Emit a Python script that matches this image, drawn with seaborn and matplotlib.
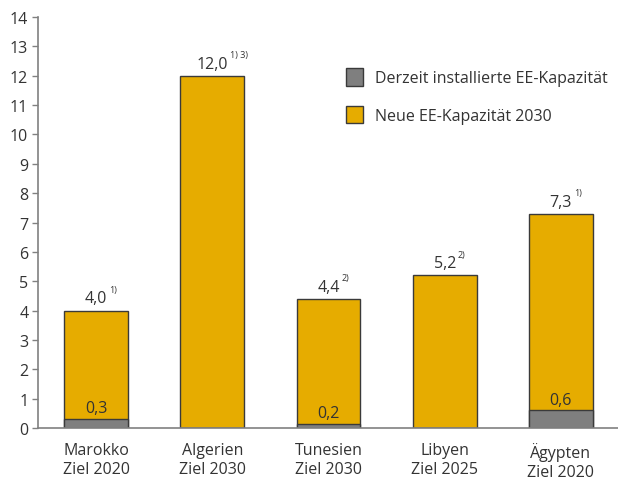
import pandas as pd
import matplotlib.pyplot as plt
import seaborn as sns

countries = ['Marokko\nZiel 2020', 'Algerien\nZiel 2030', 'Tunesien\nZiel 2030', 'Libyen\nZiel 2025', 'Ägypten\nZiel 2020']
total = [4.0, 12.0, 4.4, 5.2, 7.3]
installed = [0.3, 0.0, 0.15, 0.0, 0.6]
total_labels = ['4,0', '12,0', '4,4', '5,2', '7,3']
total_notes = ['1)', '1) 3)', '2)', '2)', '1)']
installed_labels = ['0,3', '', '0,2', '', '0,6']

gold = '#E6AC00'
grey = '#7F7F7F'
edge = '#3A3A3A'
txt = '#333333'

df = pd.DataFrame({'land': countries, 'total': total, 'installed': installed})

sns.set_style('white')
plt.rcParams['font.family'] = ['Open Sans', 'DejaVu Sans']

fig = plt.figure(figsize=(6.18, 4.81), dpi=100)
ax = fig.add_axes([38 / 618, 52 / 481, 581 / 618, 411 / 481])

sns.barplot(data=df, x='land', y='total', color=gold, width=0.55,
            edgecolor=edge, linewidth=1, saturation=1, ax=ax,
            label='Neue EE-Kapazität 2030')
sns.barplot(data=df, x='land', y='installed', color=grey, width=0.55,
            edgecolor=edge, linewidth=1, saturation=1, ax=ax,
            label='Derzeit installierte EE-Kapazität')

ax.set_ylim(0, 14)
ax.set_xlim(-0.5, 4.5)
ax.set_yticks(range(0, 15))
ax.set_xlabel('')
ax.set_ylabel('')
ax.tick_params(axis='y', length=4, width=1, color='#808080', labelsize=11.5,
               labelcolor=txt, pad=3, left=True)
ax.tick_params(axis='x', length=0, labelsize=11.5, labelcolor=txt, pad=10)
for lab in ax.get_xticklabels():
    lab.set_linespacing(1.25)
for s in ['top', 'right']:
    ax.spines[s].set_visible(False)
for s in ['left', 'bottom']:
    ax.spines[s].set_color('#808080')
    ax.spines[s].set_linewidth(1.2)

renderer = fig.canvas.get_renderer()
for i in range(len(countries)):
    t = ax.annotate(total_labels[i], (i, total[i]), xytext=(0, 3),
                    textcoords='offset points', ha='center', va='bottom',
                    fontsize=11.5, color=txt)
    # superscript note right after the number
    w = t.get_window_extent(renderer).width / 2 * 72 / fig.dpi
    ax.annotate(total_notes[i], (i, total[i]), xytext=(w + 1.5, 12),
                textcoords='offset points', ha='left', va='bottom',
                fontsize=6.5, color=txt)
    if installed_labels[i]:
        ax.annotate(installed_labels[i], (i, installed[i]), xytext=(0, 2),
                    textcoords='offset points', ha='center', va='bottom',
                    fontsize=11.5, color=txt)

h, l = ax.get_legend_handles_labels()
ax.legend(h[::-1], l[::-1], loc='upper left', bbox_to_anchor=(0.505, 0.91),
          frameon=False, fontsize=11.5, handlelength=1.1, handleheight=1.3,
          labelspacing=1.2, handletextpad=0.7, labelcolor=txt)

fig.savefig('out.png', dpi=100)
